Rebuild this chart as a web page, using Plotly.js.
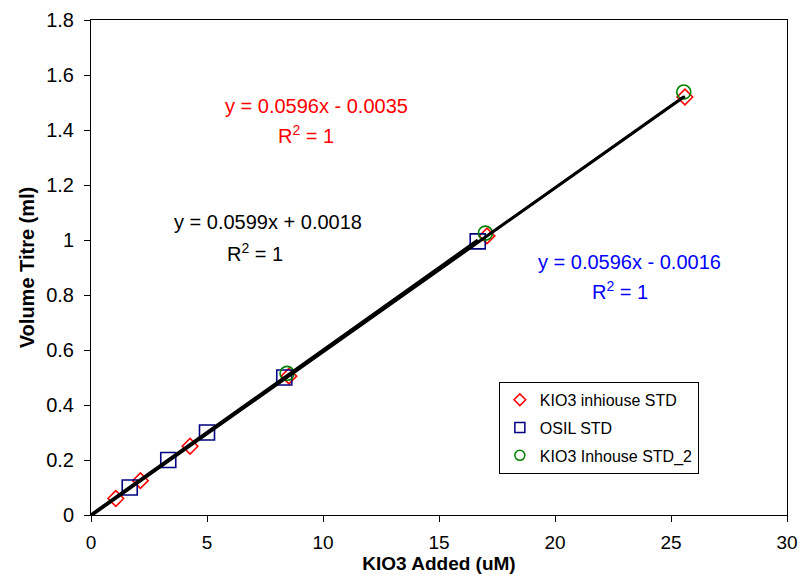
<!DOCTYPE html>
<html>
<head>
<meta charset="utf-8">
<script src="https://cdn.plot.ly/plotly-3.0.1.min.js"></script>
<style>html,body{margin:0;padding:0;background:#fff;}#chart{width:800px;height:575px;}</style>
</head>
<body>
<div id="chart"></div>
<script>
// Data
const seriesNames = ["KIO3 inhiouse STD", "OSIL STD", "KIO3 Inhouse STD_2"];
const inhouseX = [1.07, 2.13, 4.27, 8.53, 17.07, 25.6];
const inhouseY = [0.06, 0.125, 0.25, 0.505, 1.015, 1.52];
const osilX = [1.67, 3.33, 5.0, 8.33, 16.67];
const osilY = [0.1, 0.2, 0.3, 0.5, 0.995];
const inhouse2X = [8.45, 17.0, 25.55];
const inhouse2Y = [0.515, 1.025, 1.538];
const trendSlopes = [0.0596, 0.0599, 0.0596];
const trendIntercepts = [-0.0035, 0.0018, -0.0016];
const trendLabels = ["y = 0.0596x - 0.0035", "y = 0.0599x + 0.0018", "y = 0.0596x - 0.0016"];
const r2Label = "R<sup>2</sup> = 1";

const colors = ["#ff0000", "#000080", "#008000"];
const symbols = ["diamond-open", "square-open", "circle-open"];
const sizes = [12, 15, 14];
const legendSizes = [9, 10, 10];
const xs = [inhouseX, osilX, inhouse2X];
const ys = [inhouseY, osilY, inhouse2Y];

const markerTraces = xs.map((x, i) => ({
  type: "scatter", mode: "markers", name: seriesNames[i], x: x, y: ys[i],
  showlegend: false,
  marker: {symbol: symbols[i], size: sizes[i], color: colors[i], line: {width: 1.6, color: colors[i]}}
}));
// legend-only entries with smaller symbols (as in the reference legend)
const legendTraces = xs.map((x, i) => ({
  type: "scatter", mode: "markers", name: seriesNames[i], x: [null], y: [null],
  legendgroup: "g" + i,
  marker: {symbol: symbols[i], size: legendSizes[i], color: colors[i], line: {width: 1.5, color: colors[i]}}
}));
const trendTraces = xs.map((x, i) => {
  const xmax = Math.max(...x);
  const tx = [0, xmax];
  return {
    type: "scatter", mode: "lines", showlegend: false, hoverinfo: "skip",
    x: tx, y: tx.map(v => trendSlopes[i] * v + trendIntercepts[i]),
    line: {color: "#000000", width: 2.6}
  };
});
const traces = [...markerTraces, ...trendTraces, ...legendTraces];

const font = "Liberation Sans, Arial, sans-serif";
const ann = (text, x, y, color) => ({
  text: text, x: x, y: y, xref: "x", yref: "y", showarrow: false,
  font: {family: font, size: 20, color: color}, xanchor: "center", yanchor: "middle"
});
const annotations = [
  ann(trendLabels[0], 9.74, 1.487, "#ff0000"),
  ann(r2Label, 9.27, 1.382, "#ff0000"),
  ann(trendLabels[1], 7.63, 1.065, "#000000"),
  ann(r2Label, 7.07, 0.956, "#000000"),
  ann(trendLabels[2], 23.19, 0.92, "#0000ff"),
  ann(r2Label, 22.8, 0.815, "#0000ff")
];

const layout = {
  width: 800, height: 575,
  margin: {l: 91, r: 13, t: 20, b: 60},
  paper_bgcolor: "#ffffff", plot_bgcolor: "#ffffff",
  font: {family: font, size: 20, color: "#000"},
  showlegend: true,
  legend: {
    x: 0.586, y: 0.269, xanchor: "left", yanchor: "top",
    bordercolor: "#000", borderwidth: 1, bgcolor: "#fff",
    font: {family: font, size: 16, color: "#000"},
    traceorder: "grouped", tracegroupgap: 4, itemwidth: 30
  },
  xaxis: {
    range: [0, 30], dtick: 5, tick0: 0, showgrid: false, zeroline: false,
    showline: true, linecolor: "#000", linewidth: 1, mirror: true,
    ticks: "outside", ticklen: 6, tickcolor: "#000", ticklabelstandoff: 4,
    tickfont: {family: font, size: 19},
    title: {text: "<b>KIO3 Added (uM)</b>", font: {family: font, size: 19}, standoff: 1}
  },
  yaxis: {
    range: [0, 1.8], dtick: 0.2, tick0: 0, showgrid: false, zeroline: false,
    showline: true, linecolor: "#000", linewidth: 1, mirror: true,
    ticks: "outside", ticklen: 6, tickcolor: "#000", ticklabelstandoff: 6,
    tickfont: {family: font, size: 20},
    title: {text: "<b>Volume Titre (ml)</b>", font: {family: font, size: 20}, standoff: 6}
  },
  annotations: annotations
};

Plotly.newPlot("chart", traces, layout, {displayModeBar: false, staticPlot: true});
</script>
</body>
</html>
